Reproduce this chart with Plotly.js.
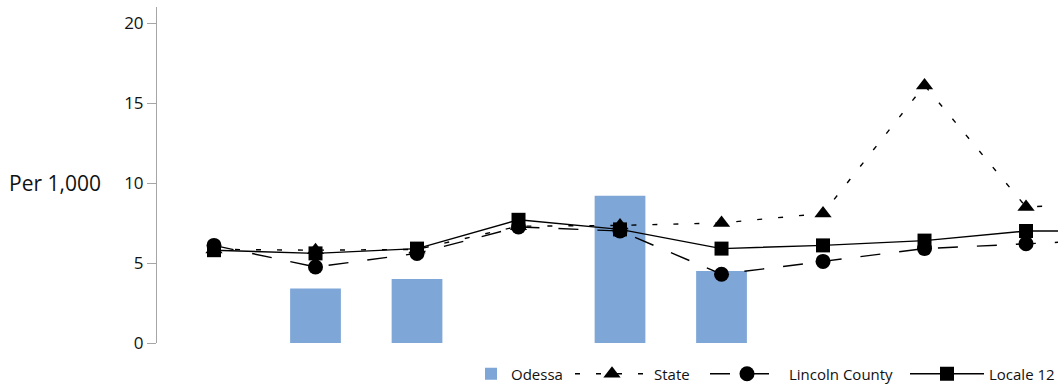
<!DOCTYPE html>
<html><head><meta charset="utf-8">
<script src="https://cdn.plot.ly/plotly-3.0.1.min.js"></script>
<style>html,body{margin:0;padding:0;overflow:hidden;background:#fff}</style>
</head><body><div id="chart" style="width:1058px;height:388px"></div>
<script>
const categories = ["P1","P2","P3","P4","P5","P6","P7","P8","P9","P10"];
const odessa = [null, 3.4, 4.0, null, 9.2, 4.5, null, null, null, null];
const state = [5.85, 5.8, 5.85, 7.3, 7.35, 7.5, 8.1, 16.1, 8.5, 8.8];
const lincolnCounty = [6.1, 4.75, 5.6, 7.25, 7.0, 4.3, 5.1, 5.9, 6.2, 6.5];
const locale12 = [5.8, 5.6, 5.9, 7.7, 7.1, 5.9, 6.1, 6.4, 7.0, 7.0];
const yTicks = [0, 5, 10, 15, 20];

const traces = [
  {type:'bar', name:'Odessa', x:categories, y:odessa, width:0.5, legend:'legend',
   marker:{color:'#7EA6D7'}},
  {type:'scatter', mode:'lines+markers', name:'State', x:categories, y:state, legend:'legend2',
   legendwidth:46,
   line:{color:'#000', width:1.4, dash:'5px,16px'},
   marker:{symbol:'triangle-up', size:15, color:'#000'}},
  {type:'scatter', mode:'lines+markers', name:'Lincoln County', x:categories, y:lincolnCounty, legend:'legend2',
   legendwidth:111,
   line:{color:'#000', width:1.4, dash:'20px,19px'},
   marker:{symbol:'circle', size:15, color:'#000'}},
  {type:'scatter', mode:'lines+markers', name:'Locale 12', x:categories, y:locale12, legend:'legend2',
   line:{color:'#000', width:1.4},
   marker:{symbol:'square', size:14, color:'#000'}}
];

const layout = {
  width:1058, height:388,
  margin:{l:157, r:0, t:7, b:45},
  paper_bgcolor:'#fff', plot_bgcolor:'#fff',
  font:{family:'"Open Sans", sans-serif', color:'#111', size:15},
  showlegend:true,
  legend:{orientation:'h', xref:'container', yref:'container', x:471/1058, xanchor:'left',
          y:(388-374)/388, yanchor:'middle', itemwidth:30,
          font:{size:15, color:'#111'}, bgcolor:'rgba(0,0,0,0)'},
  legend2:{orientation:'h', xref:'container', yref:'container', x:570/1058, xanchor:'left',
          y:(388-374)/388, yanchor:'middle', itemwidth:74, traceorder:'normal',
          font:{size:15, color:'#111'}, bgcolor:'rgba(0,0,0,0)'},
  xaxis:{type:'category', range:[-0.5616, 8.315], showticklabels:false, showline:false,
         showgrid:false, zeroline:false, ticks:''},
  yaxis:{range:[0,21], tickvals:yTicks, ticktext:yTicks.map(String), showgrid:false, zeroline:false,
         showline:true, linecolor:'#A6A6A6', linewidth:1, ticks:'outside', ticklen:9, tickcolor:'#A6A6A6',
         tickfont:{size:17, color:'#111'}},
  annotations:[{text:'Per 1,000', xref:'paper', yref:'y', x:-0.06, xanchor:'right', y:10,
                yanchor:'middle', showarrow:false, font:{size:21, color:'#111'}}]
};
Plotly.newPlot('chart', traces, layout, {displayModeBar:false, staticPlot:true});
</script></body></html>
